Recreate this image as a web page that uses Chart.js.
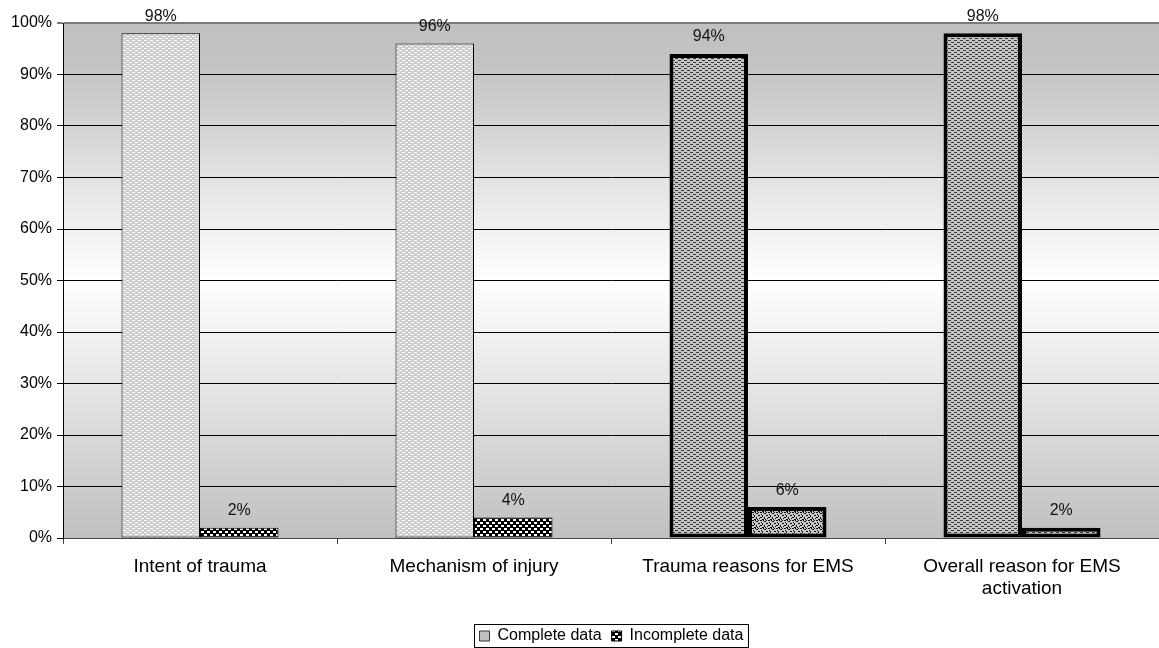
<!DOCTYPE html>
<html>
<head>
<meta charset="utf-8">
<script src="https://cdn.jsdelivr.net/npm/chart.js@4.4.1/dist/chart.umd.min.js"></script>
<style>
  html, body { margin: 0; padding: 0; background: #ffffff; }
  #wrap { width: 1159px; height: 648px; }
</style>
</head>
<body>
<div id="wrap"><canvas id="c" width="1159" height="648"></canvas></div>
<script>
// Data completeness by field
const categories = ['Intent of trauma', 'Mechanism of injury', 'Trauma reasons for EMS', ['Overall reason for EMS', 'activation']];
const completeData = [98, 96, 94, 98];
const incompleteData = [2, 4, 6, 2];
const yTicks = [0, 10, 20, 30, 40, 50, 60, 70, 80, 90, 100];

const FONT = 'Liberation Sans, Arial, Helvetica, sans-serif';

// Small repeating fill textures for the bars
function makePattern(w, h, bg, fg, rects) {
  const t = document.createElement('canvas');
  t.width = w; t.height = h;
  const g = t.getContext('2d');
  g.fillStyle = bg; g.fillRect(0, 0, w, h);
  g.fillStyle = fg;
  rects.forEach(r => g.fillRect(r[0], r[1], r[2], r[3]));
  return g.createPattern(t, 'repeat');
}

const lightDash = makePattern(6, 4, '#cdcdcd', '#ffffff', [[0, 0, 3, 1], [3, 2, 3, 1]]);
const darkDash = makePattern(6, 4, '#c4c4c4', '#383838', [[0, 0, 3, 1], [3, 2, 3, 1]]);
const checker = makePattern(6, 6, '#000000', '#ffffff', [[0, 0, 3, 2], [3, 3, 3, 2]]);
const speckle = makePattern(8, 8, '#cacaca', '#0a0a0a',
  [[0, 0, 2, 1], [4, 1, 2, 1], [2, 3, 1, 2], [6, 3, 2, 1], [0, 5, 2, 1], [4, 5, 1, 2],
   [7, 6, 1, 1], [2, 7, 2, 1], [6, 0, 1, 1], [1, 2, 1, 1], [5, 7, 1, 1], [3, 0, 1, 1]]);

const completeFills = [lightDash, lightDash, darkDash, darkDash];
const incompleteFills = [checker, checker, speckle, darkDash];
const borderWidths = [1, 1, 4, 4];

// Plot-area gradient: grey at the edges, white through the middle
const plotBackground = {
  id: 'plotBackground',
  beforeDraw(chart) {
    const a = chart.chartArea, ctx = chart.ctx;
    const g = ctx.createLinearGradient(0, a.top, 0, a.bottom);
    g.addColorStop(0, '#c0c0c0');
    g.addColorStop(0.08, '#c3c3c3');
    g.addColorStop(0.5, '#ffffff');
    g.addColorStop(1, '#c0c0c0');
    ctx.save();
    ctx.fillStyle = g;
    ctx.fillRect(a.left, a.top, a.right - a.left, a.bottom - a.top);
    ctx.restore();
  }
};

// Percent labels above each bar
const valueLabels = {
  id: 'valueLabels',
  afterDatasetsDraw(chart) {
    const ctx = chart.ctx;
    ctx.save();
    ctx.font = '16px ' + FONT;
    ctx.fillStyle = '#111111';
    ctx.textAlign = 'center';
    ctx.textBaseline = 'middle';
    chart.data.datasets.forEach((ds, di) => {
      chart.getDatasetMeta(di).data.forEach((el, i) => {
        ctx.fillText(ds.data[i] + '%', el.x, el.y - 17);
      });
    });
    ctx.restore();
  }
};

// Centre the legend under the plot area and frame it
const legendFrame = {
  id: 'legendFrame',
  afterLayout(chart) {
    const lg = chart.legend, a = chart.chartArea;
    const shift = Math.round((a.left + a.right) / 2 - (lg.left + lg.right) / 2);
    lg.left += shift; lg.right += shift;
    lg.top += 6; lg.bottom += 6;
  },
  afterDraw(chart) {
    const boxes = chart.legend.legendHitBoxes;
    if (!boxes || !boxes.length) return;
    let l = Infinity, r = -Infinity, t = Infinity, b = -Infinity;
    boxes.forEach(h => {
      l = Math.min(l, h.left); r = Math.max(r, h.left + h.width);
      t = Math.min(t, h.top); b = Math.max(b, h.top + h.height);
    });
    const cy = (t + b) / 2;
    const ctx = chart.ctx;
    ctx.save();
    ctx.strokeStyle = '#000000';
    ctx.lineWidth = 1;
    ctx.strokeRect(Math.round(l - 6) + 0.5, Math.round(cy - 12) + 0.5, Math.round(r - l + 10), 23);
    ctx.restore();
  }
};

new Chart(document.getElementById('c'), {
  type: 'bar',
  data: {
    labels: categories,
    datasets: [
      {
        label: 'Complete data',
        data: completeData,
        backgroundColor: completeFills,
        borderColor: '#000000',
        borderWidth: borderWidths,
        borderSkipped: false
      },
      {
        label: 'Incomplete data',
        data: incompleteData,
        backgroundColor: incompleteFills,
        borderColor: '#000000',
        borderWidth: borderWidths,
        borderSkipped: false
      }
    ]
  },
  options: {
    responsive: false,
    animation: false,
    layout: { padding: { top: 23, right: 0, bottom: 0, left: 0 } },
    datasets: { bar: { categoryPercentage: 0.573, barPercentage: 1.0 } },
    scales: {
      x: {
        offset: true,
        grid: { display: true, drawOnChartArea: false, drawTicks: true, tickLength: 6, color: '#444444', offset: true },
        border: { display: true, color: '#444444', width: 1 },
        ticks: { color: '#000000', font: { family: FONT, size: 19, lineHeight: 1.2 }, padding: 11, maxRotation: 0, autoSkip: false },
        afterFit(scale) {
          const lg = scale.chart.legend;
          scale.height = 110 - (lg ? lg.height : 0);
        }
      },
      y: {
        min: 0,
        max: 100,
        afterBuildTicks(scale) { scale.ticks = yTicks.map(v => ({ value: v })); },
        grid: {
          color: (c) => (c.tick && c.tick.value === 100 ? '#7a7a7a' : '#000000'),
          lineWidth: (c) => (c.tick && c.tick.value === 100 ? 2 : 1),
          drawTicks: true,
          tickLength: 6
        },
        border: { display: true, color: '#000000', width: 1 },
        ticks: {
          color: '#000000',
          font: { family: FONT, size: 16 },
          padding: 5,
          callback: (v) => v + '%'
        },
        afterFit(scale) { scale.width = 63; }
      }
    },
    plugins: {
      tooltip: { enabled: false },
      legend: {
        position: 'bottom',
        labels: {
          color: '#000000',
          font: { family: FONT, size: 16 },
          boxWidth: 10,
          boxHeight: 10,
          padding: 10,
          generateLabels: (chart) => [
            { text: 'Complete data', fillStyle: '#c0c0c0', strokeStyle: '#333333', lineWidth: 1, datasetIndex: 0, hidden: false, fontColor: '#000000' },
            { text: 'Incomplete data', fillStyle: checker, strokeStyle: '#000000', lineWidth: 1, datasetIndex: 1, hidden: false, fontColor: '#000000' }
          ]
        }
      }
    }
  },
  plugins: [plotBackground, valueLabels, legendFrame]
});
</script>
</body>
</html>
